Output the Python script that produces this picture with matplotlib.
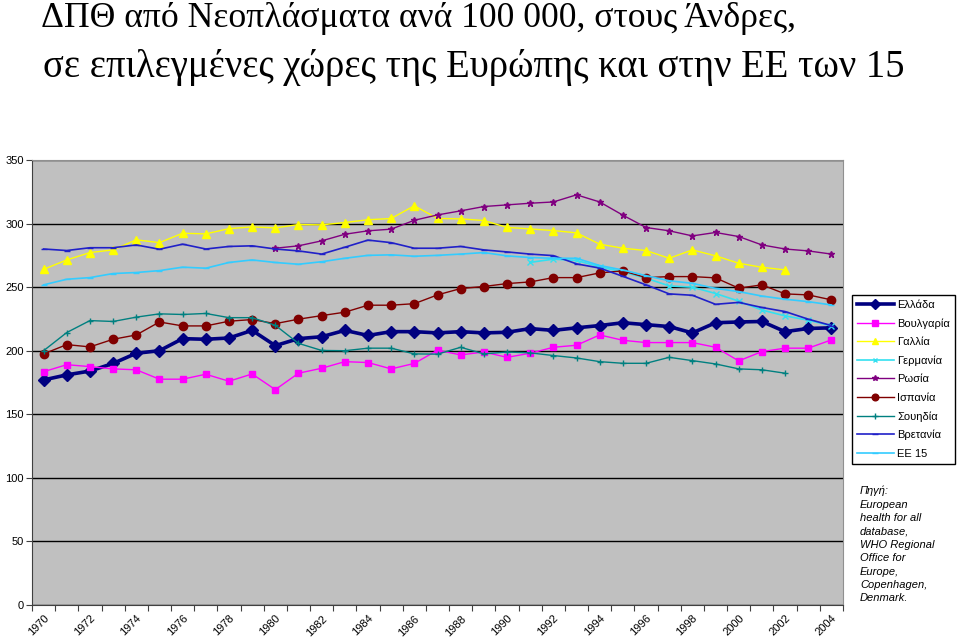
import numpy as np
import matplotlib.pyplot as plt
from matplotlib.lines import Line2D

nan = np.nan
years = list(range(1970, 2005))

greece = [177, 181, 184, 190, 198, 200, 209.5, 209, 210, 216, 204, 209.5, 211,
          216, 212, 215, 215, 214, 215, 214, 214.5, 217.4, 216, 218, 219.8, 222,
          220.5, 219, 214, 222, 222.6, 223, 215, 217.5, 218]
bulgaria = [183.5, 189, 187.5, 185.7, 185, 177.6, 177.6, 181.5, 176, 181.7, 169.4, 182.3, 186.2,
            191.4, 190.7, 185.7, 190, 200.4, 196.7, 199, 194.8, 198, 202.7, 204.3, 212.4, 208.2,
            206.4, 206.4, 206.4, 202.7, 192, 199.3, 202, 202, 208.5]
france = [264, 271.4, 277.2, 279.3, 287.2, 285, 292.4, 291.9, 296, 297.4, 296.6, 299.2, 299,
          300.8, 303, 304, 314, 304, 303.7, 302.4, 297, 295.8, 294.5, 292.7, 283.8, 280.6,
          278.8, 272.7, 279.3, 274.6, 268.8, 265.6, 263.6, nan, nan]
germany = [nan] * 21 + [269.5, 272, 271, 266, 262, 257, 251, 250, 245, 239, 232, 227.4, 224, 219.5]
russia = [nan] * 10 + [280.6, 282.5, 286.4, 291.6, 294.3, 295.6, 302.6, 306.8, 310, 313.4, 314.7,
                       316, 317, 322.6, 317, 306.6, 296.9, 294.3, 290.3, 293, 289.8, 283.2,
                       280, 278.5, 276]
spain = [197.5, 204.8, 203, 209, 212.4, 222.6, 219.5, 219.5, 223.2, 224.5, 221.3, 224.8, 227.6,
         230.3, 235.8, 235.8, 237, 243.9, 248.9, 250.5, 252.8, 254.1, 257.5, 257.5, 261.2, 262.8,
         257.5, 258.3, 258.3, 257.3, 249.2, 251.8, 244.7, 243.9, 240]
sweden = [200, 214.3, 223.7, 223, 226.4, 229, 228.5, 229.3, 226, 226, 220, 205.8, 200.2,
          200, 202, 202, 197.5, 197.3, 202.7, 197.5, 199, 198.3, 196.2, 194.3, 191.4, 190.1,
          190.1, 194.8, 192.2, 189.6, 185.7, 185, 182.3, nan, nan]
britain = [280, 278.8, 281, 281, 283.2, 279.8, 283.8, 280, 282, 282.5, 280, 278.5, 276,
           281.4, 287, 285, 280.6, 280.6, 282, 279.3, 277.7, 276, 274.8, 268.3, 265, 258.5,
           251.8, 244.7, 243.6, 236.5, 238, 234, 230.8, 224.8, 219.8]
eu15 = [251.8, 256.2, 257.5, 260.7, 261.5, 263, 265.7, 264.9, 269.4, 271.4, 269.4, 268, 270,
        272.7, 275, 275.4, 274.3, 275, 276, 277.2, 274.6, 273.3, 272.7, 272.7, 267, 263.5,
        259, 255, 253, 249, 246.5, 243, 240.5, 238.6, 236]

series = [
    ('Ελλάδα', greece, '#000080', 'D', 6.5, 2.6),
    ('Βουλγαρία', bulgaria, '#FF00FF', 's', 5, 1),
    ('Γαλλία', france, '#FFFF00', '^', 6, 1),
    ('Γερμανία', germany, '#33E0F0', 'x', 4, 1.2),
    ('Ρωσία', russia, '#800080', '*', 5, 1),
    ('Ισπανία', spain, '#800000', 'o', 6, 1),
    ('Σουηδία', sweden, '#008080', '+', 5, 1),
    ('Βρετανία', britain, '#2020C8', '_', 5, 1.2),
    ('ΕΕ 15', eu15, '#33CCFF', '_', 5, 1.2),
]

fig = plt.figure(figsize=(9.6, 6.41), dpi=100)
ax = fig.add_axes([32 / 960, 36 / 641, 811 / 960, 445 / 641])
ax.set_facecolor('#C0C0C0')

x = np.arange(len(years))
handles = []
for name, vals, col, mk, ms, lw in series:
    ax.plot(x, vals, color=col, marker=mk, markersize=ms, linewidth=lw,
            markeredgecolor=col, markerfacecolor=col, zorder=3)
    handles.append(Line2D([], [], color=col, marker=mk, markersize=ms * 0.8,
                          linewidth=lw, markeredgecolor=col, label=name))

ax.set_xlim(-0.5, len(years) - 0.5)
ax.set_ylim(0, 350)
ax.set_yticks(range(0, 351, 50))
ax.yaxis.grid(True, color='black', linewidth=1)
ax.set_axisbelow(True)
ax.tick_params(axis='y', labelsize=8, length=4, color='#404040', pad=2)

# tick marks between categories, labels every other year
ax.set_xticks(np.arange(-0.5, len(years), 1))
ax.set_xticklabels([])
ax.tick_params(axis='x', length=4, color='#404040')
ax.set_xticks(x[::2], minor=True)
ax.set_xticklabels([str(y) for y in years[::2]], minor=True, rotation=45,
                   ha='right', va='top', rotation_mode='anchor', fontsize=8)
ax.tick_params(axis='x', which='minor', length=0, pad=6)

for s in ['top', 'right']:
    ax.spines[s].set_color('#909090')
for s in ['left', 'bottom']:
    ax.spines[s].set_color('#404040')

for t in ax.get_xticklabels(minor=True) + ax.get_yticklabels():
    t.set_family('Liberation Sans')

fig.text(41 / 960, 1 - 27 / 641, 'ΔΠΘ από Νεοπλάσματα ανά 100 000, στους Άνδρες,',
         family='Liberation Serif', fontsize=25.7, ha='left', va='baseline')
fig.text(43 / 960, 1 - 77 / 641, 'σε επιλεγμένες χώρες της Ευρώπης και στην ΕΕ των 15',
         family='Liberation Serif', fontsize=27.8, ha='left', va='baseline')

leg = fig.legend(handles=handles, loc='upper left', bbox_to_anchor=(852 / 960, 1 - 295 / 641),
                 prop={'family': 'Liberation Sans', 'size': 8}, frameon=True, fancybox=False,
                 edgecolor='black', framealpha=1, handlelength=3.3, labelspacing=0.75,
                 borderpad=0.45, handletextpad=0.3, borderaxespad=0)
leg.get_frame().set_linewidth(1)

fig.text(860 / 960, 1 - 486 / 641,
         'Πηγή:\nEuropean\nhealth for all\ndatabase,\nWHO Regional\nOffice for\nEurope,\nCopenhagen,\nDenmark.',
         family='Liberation Sans', style='italic', fontsize=8, ha='left', va='top', linespacing=1.42)

fig.savefig('out.png', dpi=100)
